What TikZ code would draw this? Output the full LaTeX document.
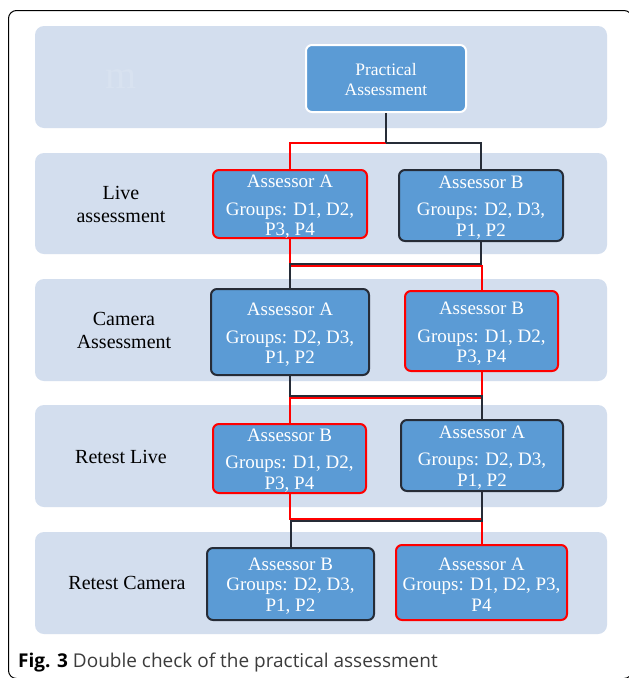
\documentclass[tikz,border=0pt]{standalone}
\usepackage{fontspec}
\setmainfont{Liberation Serif}
\newfontfamily\capfont{Open Sans}
\usetikzlibrary{calc}
\definecolor{bandc}{RGB}{211,222,238}
\definecolor{boxc}{RGB}{91,155,213}
\definecolor{darkc}{RGB}{38,44,55}
\definecolor{redc}{RGB}{255,0,0}
\definecolor{capgray}{RGB}{60,60,60}
\begin{document}
\begin{tikzpicture}[x=1pt,y=-1pt,
  band/.style={fill=bandc, rounded corners=9pt},
  abox/.style={fill=boxc, rounded corners=6pt, line width=2pt, inner sep=0pt},
  redbox/.style={abox, draw=redc},
  darkbox/.style={abox, draw=darkc},
  boxtxt/.style={text=white, align=center, font=\fontsize{19}{20.5}\selectfont, inner sep=0pt},
  redline/.style={draw=redc, line width=2pt},
  darkline/.style={draw=darkc, line width=2pt},
  lab/.style={align=center, font=\fontsize{20}{23}\selectfont, text=black}]
\useasboundingbox (0,0) rectangle (629,678);
\fill[white] (0,0) rectangle (629,678);
% outer frame
\draw[line width=1pt, draw=black, rounded corners=8pt] (8.5,10.5) rectangle (632,678.5);
% bands
\fill[band] (35,26) rectangle (607,128);
\fill[band] (35,153) rectangle (607,254);
\fill[band] (35,279) rectangle (607,381);
\fill[band] (35,405) rectangle (607,507);
\fill[band] (35,532) rectangle (607,634);
% faint mark
\node[font=\fontsize{40}{40}\selectfont, text=bandc!88!white] (mk) at (121,79) {m};
% boxes
\node[abox, draw=white, minimum width=160, minimum height=67] (PA) at (386,78.5) {};
\node[boxtxt, font=\fontsize{17.5}{20}\selectfont] (PAt) at ($(PA)+(0,1)$) {Practical\\Assessment};
\node[redbox, minimum width=154, minimum height=68] (R2A) at (290,204) {};
\node[darkbox, minimum width=164, minimum height=71] (R2B) at (481,205.5) {};
\node[darkbox, minimum width=158, minimum height=86] (R3A) at (290,332) {};
\node[redbox, minimum width=153, minimum height=80] (R3B) at (481.5,331) {};
\node[redbox, minimum width=153, minimum height=69] (R4B) at (289.5,458.5) {};
\node[darkbox, minimum width=162, minimum height=71] (R4A) at (482,455.5) {};
\node[darkbox, minimum width=167, minimum height=72] (R5B) at (290.5,584) {};
\node[redbox, minimum width=171, minimum height=75] (R5A) at (481.5,582.5) {};
\node[boxtxt] (R2At) at ($(R2A)+(0,3)$) {Assessor A\\[7pt]Groups: D1, D2,\\P3, P4};
\node[boxtxt] (R2Bt) at ($(R2B)+(0,2)$) {Assessor B\\[7pt]Groups: D2, D3,\\P1, P2};
\node[boxtxt] (R3At) at ($(R3A)+(0,3)$) {Assessor A\\[7pt]Groups: D2, D3,\\P1, P2};
\node[boxtxt] (R3Bt) at ($(R3B)+(0,3)$) {Assessor B\\[7pt]Groups: D1, D2,\\P3, P4};
\node[boxtxt] (R4Bt) at ($(R4B)+(0,2)$) {Assessor B\\[7pt]Groups: D1, D2,\\P3, P4};
\node[boxtxt] (R4At) at ($(R4A)+(0,2)$) {Assessor A\\[7pt]Groups: D2, D3,\\P1, P2};
\node[boxtxt] (R5Bt) at ($(R5B)+(0,2)$) {Assessor B\\Groups: D2, D3,\\P1, P2};
\node[boxtxt] (R5At) at ($(R5A)+(0,2)$) {Assessor A\\Groups: D1, D2, P3,\\P4};
% row labels
\node[lab] (L2) at (121,204) {Live\\assessment};
\node[lab] (L3) at (124,330) {Camera\\Assessment};
\node[lab] (L4) at (121,457) {Retest Live};
\node[lab] (L5) at (127,583) {Retest Camera};
% connectors
\coordinate (J1) at ($(PA.south)+(0,30)$);
\draw[redline] (J1) -| (R2A.north);
\draw[darkline] (J1) -| (R2B.north);
\draw[darkline] (PA.south) -- (J1);
% row 2 -> 3
\draw[redline] (R2A.south) -- (R2A.south |- 0,266) -| (R3B.north);
\draw[darkline] (R2B.south) -- (R2B.south |- 0,264) -| (R3A.north);
% row 3 -> 4
\draw[redline] (R3B.south) -- (R3B.south |- 0,398) -| (R4B.north);
\draw[darkline] (R3A.south) -- (R3A.south |- 0,396) -| (R4A.north);
% row 4 -> 5
\draw[redline] (R4B.south) -- (R4B.south |- 0,519) -| (R5A.north);
\draw[darkline] (R4A.south) -- (R4A.south |- 0,521) -| (R5B.north);
% caption
\node[anchor=base west, font=\capfont\fontsize{19}{22}\selectfont, text=capgray, inner sep=0pt] (cap) at (18,667) {\textcolor{black}{\textbf{Fig. 3}} Double check of the practical assessment};
\end{tikzpicture}
\end{document}
